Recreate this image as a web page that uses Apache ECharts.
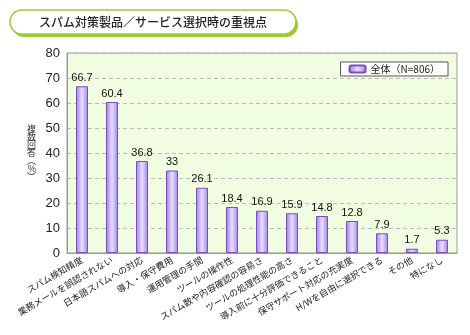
<!DOCTYPE html>
<html><head><meta charset="utf-8">
<script src="https://cdn.jsdelivr.net/npm/echarts@6/dist/echarts.min.js"></script>
<style>html,body{margin:0;padding:0;background:#fff}#c{width:470px;height:335px}</style>
</head><body><div id="c"></div>
<script>
const title = 'スパム対策製品／サービス選択時の重視点';
const categories = ['スパム検知精度','業務メールを誤認されない','日本語スパムへの対応','導入・保守費用','運用管理の手間','ツールの操作性','スパム数や内容確認の容易さ','ツールの処理性能の高さ','導入前に十分評価できること','保守サポート対応の充実度','H/Wを自由に選択できる','その他','特になし'];
const values = [66.7,60.4,36.8,33,26.1,18.4,16.9,15.9,14.8,12.8,7.9,1.7,5.3];
const seriesName = '全体（N=806）';
const yTicks = [0,10,20,30,40,50,60,70,80];
const yNameChars = ['複','数','回','答','︵','%','︶'];

const jp = '"Noto Sans CJK JP", sans-serif';
const chart = echarts.init(document.getElementById('c'));
chart.setOption({
  animation: false,
  textStyle: {fontFamily: 'Arial, "Liberation Sans", sans-serif'},
  graphic: [
    {type:'rect', shape:{x:12,y:13,width:286,height:24,r:12}, style:{fill:'#99cc33'}},
    {type:'rect', shape:{x:10,y:10,width:286,height:24,r:12}, style:{fill:'#fff',stroke:'#99cc33',lineWidth:1.5}},
    {type:'text', x:153, y:22, style:{text:title, fontSize:12, fontWeight:500, fontFamily:jp, fill:'#222', align:'center', verticalAlign:'middle'}}
  ],
  grid: {left:67, right:13, top:53, bottom:82, containLabel:false, show:true, backgroundColor:'#f0fde0', borderColor:'#999', borderWidth:1},
  legend: {
    data:[seriesName], right:22, top:62, orient:'horizontal',
    backgroundColor:'#fff', borderColor:'#555', borderWidth:1, padding:[2,8,2,8],
    itemWidth:16, itemHeight:7, itemGap:8,
    textStyle:{fontSize:10, color:'#222', fontFamily:jp}
  },
  xAxis: {
    type:'category', data:categories,
    axisLine:{lineStyle:{color:'#999'}},
    axisTick:{inside:true, length:4, lineStyle:{color:'#555'}},
    axisLabel:{rotate:30, interval:0, fontSize:9, color:'#222', margin:6, fontFamily:jp}
  },
  yAxis: {
    type:'value', min:0, max:80, interval:10,
    name: yNameChars.join('\n'), nameLocation:'middle', nameRotate:0, nameGap:31,
    nameTextStyle:{fontSize:9, lineHeight:8, fontFamily:jp, color:'#333', padding:[20,0,0,0]},
    axisLine:{show:true, lineStyle:{color:'#999'}},
    axisTick:{show:false},
    axisLabel:{fontSize:13, color:'#222', margin:7},
    splitLine:{lineStyle:{color:'#bbb', type:[4,3]}}
  },
  series: [{
    name: seriesName, type:'bar', data: values, barWidth:12,
    itemStyle:{
      color:{type:'linear',x:0,y:0,x2:1,y2:0,colorStops:[
        {offset:0,color:'#9a7be3'},{offset:0.5,color:'#e8e0ff'},{offset:1,color:'#a283e6'}]},
      borderColor:'#7a4cc4', borderWidth:1
    },
    label:{show:true, position:'top', fontSize:11, color:'#111', distance:3}
  }]
});
</script></body></html>
